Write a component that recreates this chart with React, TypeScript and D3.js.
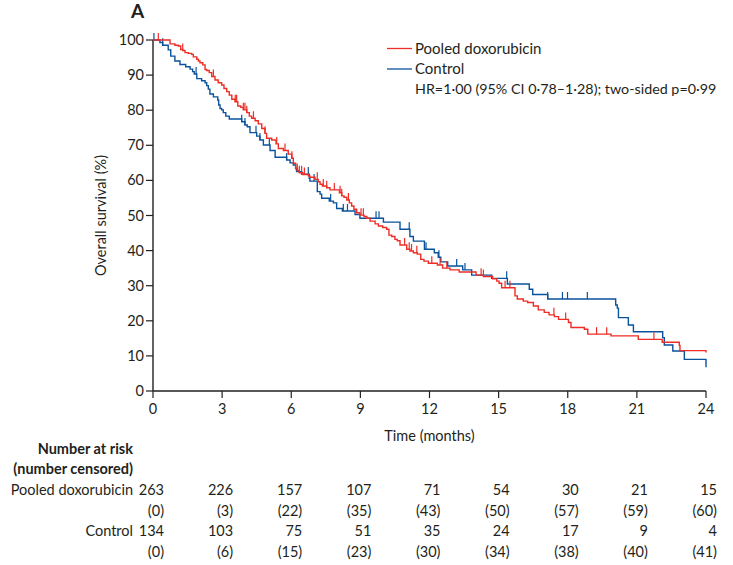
import * as d3 from "d3";

/* ---------------- data ---------------- */

const monthTicks = [0, 3, 6, 9, 12, 15, 18, 21, 24];
const survivalTicks = [0, 10, 20, 30, 40, 50, 60, 70, 80, 90, 100];

// [months, overall survival %] at each step
const doxoSteps: [number, number][] = [
  [0, 100], [0.74, 98.9], [0.95, 98.5], [1.1, 98.3], [1.2, 97.3], [1.29, 97.0],
  [1.39, 96.4], [1.53, 96.2], [1.68, 95.9], [1.75, 95.2], [1.9, 94.5], [1.97, 94.0],
  [2.04, 93.5], [2.16, 92.9], [2.26, 91.6], [2.33, 91.3], [2.44, 90.7], [2.55, 89.6],
  [2.69, 88.6], [2.83, 87.8], [2.98, 87.2], [3.08, 86.2], [3.2, 85.3], [3.31, 84.3],
  [3.42, 83.1], [3.56, 82.4], [3.68, 81.2], [3.81, 80.8], [3.92, 80.1], [4.07, 79.3],
  [4.18, 78.3], [4.28, 77.7], [4.43, 77.0], [4.57, 76.1], [4.72, 74.8], [4.86, 73.4],
  [4.93, 72.0], [5.15, 71.5], [5.34, 70.4], [5.44, 69.1], [5.66, 68.5], [5.87, 67.5],
  [6.02, 66.3], [6.09, 64.9], [6.19, 63.4], [6.26, 62.8], [6.35, 62.2], [6.5, 61.7],
  [6.74, 61.3], [6.81, 60.9], [7.03, 60.3], [7.17, 59.6], [7.25, 58.9], [7.35, 58.4],
  [7.54, 57.9], [7.68, 57.3], [8.09, 56.5], [8.19, 55.6], [8.29, 55.2], [8.41, 54.4],
  [8.52, 53.6], [8.62, 52.7], [8.72, 51.8], [8.84, 50.8], [8.98, 50.1], [9.16, 49.7],
  [9.28, 49.2], [9.42, 48.4], [9.64, 47.6], [9.78, 47.0], [9.97, 46.6], [10.14, 46.1],
  [10.24, 44.4], [10.36, 44.0], [10.5, 43.2], [10.6, 42.8], [10.72, 41.6], [11.01, 40.4],
  [11.15, 39.9], [11.3, 39.4], [11.47, 39.0], [11.62, 37.5], [11.76, 37.0], [11.95, 36.4],
  [12.34, 35.9], [12.57, 35.0], [12.89, 34.5], [13.29, 33.9], [14.02, 33.0], [14.34, 32.6],
  [14.74, 32.0], [14.92, 31.3], [15.02, 30.7], [15.13, 29.4], [15.71, 27.1], [15.81, 26.2],
  [16.07, 25.6], [16.26, 25.2], [16.51, 24.2], [16.72, 23.1], [16.98, 22.4], [17.19, 21.7],
  [17.42, 21.2], [17.6, 20.4], [18.03, 19.5], [18.14, 18.1], [18.72, 17.6], [18.87, 16.2],
  [19.88, 15.7], [21.06, 14.7], [22.1, 13.9], [22.84, 13.0], [22.87, 11.5], [24, 11.0],
];

const controlSteps: [number, number][] = [
  [0, 100], [0.3, 99.3], [0.42, 98.5], [0.66, 97.2], [0.77, 95.4], [0.95, 94.0],
  [1.17, 93.0], [1.42, 92.4], [1.61, 91.7], [1.72, 91.0], [1.79, 90.3], [1.9, 89.0],
  [2.11, 88.4], [2.26, 87.8], [2.33, 87.0], [2.4, 86.0], [2.47, 84.6], [2.62, 83.8],
  [2.81, 82.9], [2.85, 81.5], [2.91, 80.5], [2.98, 80.1], [3.05, 79.3], [3.16, 78.3],
  [3.31, 77.5], [3.85, 76.7], [3.99, 75.8], [4.09, 75.3], [4.21, 73.6], [4.5, 72.6],
  [4.64, 71.5], [4.79, 70.1], [5.08, 68.5], [5.3, 66.6], [5.8, 65.8], [5.95, 65.0],
  [6.09, 64.4], [6.19, 63.4], [6.23, 62.5], [6.45, 61.8], [6.78, 60.6], [6.81, 59.8],
  [7.13, 56.8], [7.25, 56.1], [7.32, 54.9], [7.65, 54.1], [7.83, 53.6], [7.97, 52.0],
  [8.22, 51.3], [8.77, 50.3], [8.98, 49.2], [10.0, 48.1], [10.72, 46.1], [11.15, 44.0],
  [11.3, 42.7], [11.78, 40.4], [12.21, 39.4], [12.38, 38.1], [12.49, 36.8], [12.79, 35.6],
  [13.44, 34.5], [13.83, 33.0], [14.7, 32.1], [15.38, 30.5], [16.33, 29.0], [16.48, 27.5],
  [17.13, 26.2], [20.08, 24.5], [20.15, 23.6], [20.2, 20.9], [20.63, 18.8], [20.85, 16.9],
  [22.12, 15.2], [22.19, 13.1], [22.56, 11.4], [23.06, 9.0], [24, 6.8],
];

// censoring times (months)
const doxoCensored = [
  0.23, 1.29, 2.62, 3.57, 3.63, 3.92, 3.99, 4.07, 4.36, 4.86, 5.37, 5.73, 6.03, 6.26,
  6.35, 6.45, 6.57, 7.13, 7.39, 7.54, 7.87, 8.12, 8.19, 8.48, 9.03, 9.13, 10.92, 11.12,
  11.22, 11.45, 12.1, 12.46, 12.75, 14.24, 14.34, 15.28, 15.49, 17.4, 17.91, 19.25,
  19.69, 21.74,
];
const controlCensored = [
  0.04, 0.42, 1.87, 3.85, 3.99, 4.47, 4.64, 5.05, 5.8, 6.74, 6.99, 7.71, 8.26, 8.44,
  9.68, 9.81, 11.12, 11.85, 12.41, 13.18, 13.54, 15.35, 17.13, 17.77, 17.99, 18.85,
];

const riskDoxo = [263, 226, 157, 107, 71, 54, 30, 21, 15];
const censDoxo = [0, 3, 22, 35, 43, 50, 57, 59, 60];
const riskControl = [134, 103, 75, 51, 35, 24, 17, 9, 4];
const censControl = [0, 6, 15, 23, 30, 34, 38, 40, 41];

const RED = "#ee2d26";
const BLUE = "#0a529c";
const INK = "#231f20";
const FONT = "Lato, 'Open Sans', sans-serif";

/* ---------------- helpers ---------------- */

function survAt(steps: [number, number][], t: number) {
  let v = steps[0][1];
  for (const [x, y] of steps) if (x <= t) v = y;
  return v;
}

export default function App() {
  const width = 733;
  const height = 565;
  const x = d3.scaleLinear().domain([0, 24]).range([153, 706]);
  const y = d3.scaleLinear().domain([0, 100]).range([391, 40]);

  const line = d3
    .line<[number, number]>()
    .x((d) => x(d[0]))
    .y((d) => y(d[1]))
    .curve(d3.curveStepAfter);

  const curves = [
    { steps: controlSteps, cens: controlCensored, color: BLUE },
    { steps: doxoSteps, cens: doxoCensored, color: RED },
  ];

  const numX = (t: number) => x(t) + 11;

  const rows = [
    { label: "Pooled doxorubicin", values: riskDoxo, y: 495 },
    { label: "", values: censDoxo.map((c) => `(${c})`), y: 516 },
    { label: "Control", values: riskControl, y: 536 },
    { label: "", values: censControl.map((c) => `(${c})`), y: 557 },
  ];

  return (
    <svg
      width={width}
      height={height}
      style={{ position: "absolute", left: 0, top: 0, background: "#fff" }}
      fontFamily={FONT}
    >
      <text x={137.5} y={18} textAnchor="middle" fontSize={19} fontWeight={700} fill={INK}>
        A
      </text>

      {/* axes */}
      <line x1={x(0)} x2={x(0)} y1={y(100)} y2={y(0)} stroke={INK} strokeWidth={1.4} />
      <line x1={x(0)} x2={x(24)} y1={y(0)} y2={y(0)} stroke={INK} strokeWidth={1.4} />
      {survivalTicks.map((v) => (
        <g key={v}>
          <line x1={x(0) - 7} x2={x(0)} y1={y(v)} y2={y(v)} stroke={INK} strokeWidth={1.2} />
          <text x={x(0) - 9} y={y(v) + 5} textAnchor="end" fontSize={14.5} fill={INK}>
            {v}
          </text>
        </g>
      ))}
      {monthTicks.map((m) => (
        <g key={m}>
          <line x1={x(m)} x2={x(m)} y1={y(0)} y2={y(0) + 7} stroke={INK} strokeWidth={1.2} />
          <text x={x(m)} y={414} textAnchor="middle" fontSize={14.5} fill={INK}>
            {m}
          </text>
        </g>
      ))}
      <text x={(x(0) + x(24)) / 2} y={441} textAnchor="middle" fontSize={14.5} fill={INK}>
        Time (months)
      </text>
      <text
        transform={`translate(106,${(y(0) + y(100)) / 2}) rotate(-90)`}
        textAnchor="middle"
        fontSize={14.5}
        fill={INK}
      >
        Overall survival (%)
      </text>

      {/* curves */}
      {curves.map((c, i) => (
        <g key={i}>
          <path d={line(c.steps) ?? ""} fill="none" stroke={c.color} strokeWidth={1.4} />
          {c.cens.map((t, j) => {
            const yy = y(survAt(c.steps, t));
            return (
              <line
                key={j}
                x1={x(t)}
                x2={x(t)}
                y1={yy}
                y2={yy - 7}
                stroke={c.color}
                strokeWidth={1.2}
              />
            );
          })}
        </g>
      ))}

      {/* legend */}
      <line x1={387} x2={412} y1={48.5} y2={48.5} stroke={RED} strokeWidth={1.3} />
      <text x={415} y={53.5} fontSize={15} fill={INK}>
        Pooled doxorubicin
      </text>
      <line x1={387} x2={412} y1={69} y2={69} stroke={BLUE} strokeWidth={1.3} />
      <text x={415} y={74} fontSize={15} fill={INK}>
        Control
      </text>
      <text x={415} y={94} fontSize={14.3} fill={INK}>
        HR=1·00 (95% CI 0·78–1·28); two-sided p=0·99
      </text>

      {/* number at risk */}
      <text x={133} y={454} textAnchor="end" fontSize={14.5} fontWeight={700} fill={INK}>
        Number at risk
      </text>
      <text x={133} y={474} textAnchor="end" fontSize={14.5} fontWeight={700} fill={INK}>
        (number censored)
      </text>
      {rows.map((r, i) => (
        <g key={i}>
          {r.label && (
            <text x={133} y={r.y} textAnchor="end" fontSize={14.5} fill={INK}>
              {r.label}
            </text>
          )}
          {r.values.map((v, j) => (
            <text key={j} x={numX(monthTicks[j])} y={r.y} textAnchor="end" fontSize={14.5} fill={INK}>
              {v}
            </text>
          ))}
        </g>
      ))}
    </svg>
  );
}
